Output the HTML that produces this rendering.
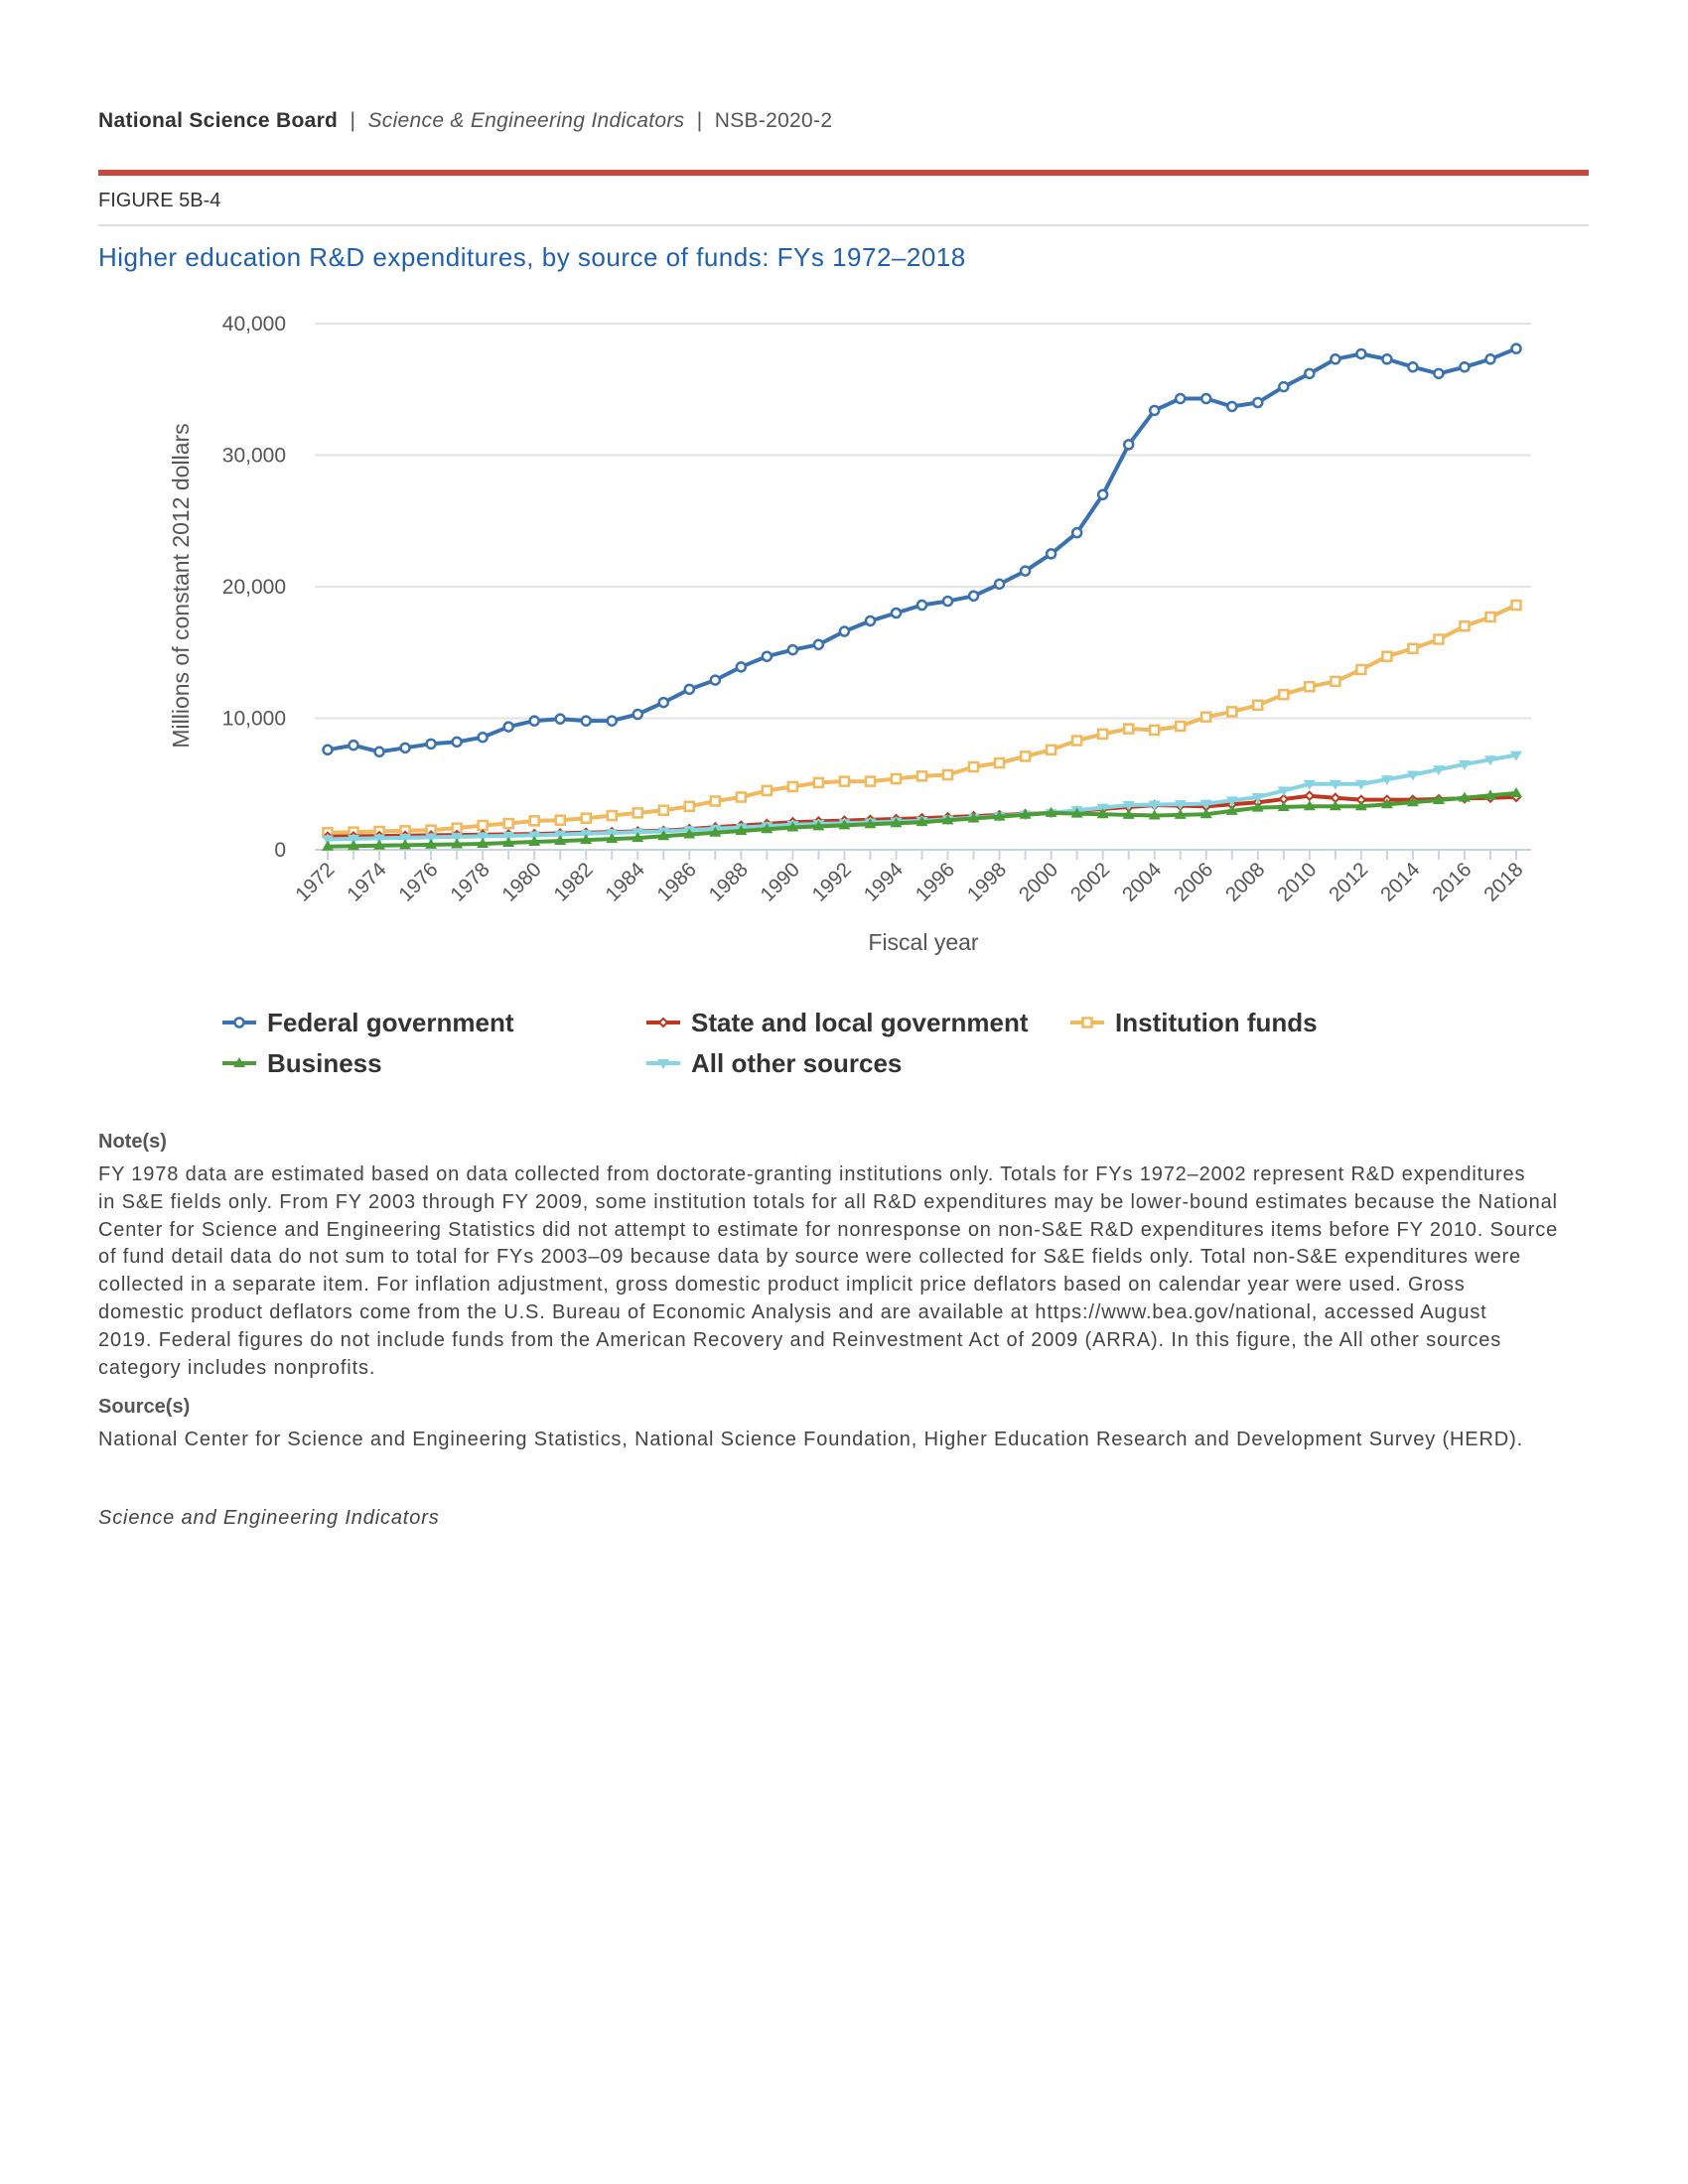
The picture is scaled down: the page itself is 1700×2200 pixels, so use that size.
<!DOCTYPE html>
<html><head><meta charset="utf-8">
<style>
body{margin:0;background:#fff;width:1700px;height:2200px;position:relative;font-family:"Liberation Sans",sans-serif;color:#333;}
.abs{position:absolute;}
.nt{font-size:20px;line-height:27.8px;color:#444;letter-spacing:0.85px;white-space:nowrap;}
</style></head><body>
<div class="abs" style="left:99px;top:110px;font-size:21px;color:#333;letter-spacing:0.3px;"><b style="font-weight:600">National Science Board</b> <span style="color:#555">&nbsp;|&nbsp; <i>Science &amp; Engineering Indicators</i> &nbsp;|&nbsp; NSB-2020-2</span></div>
<div class="abs" style="left:99px;top:171px;width:1501px;height:6px;background:#c8473a;"></div>
<div class="abs" style="left:99px;top:191px;font-size:20px;color:#333;">FIGURE 5B-4</div>
<div class="abs" style="left:99px;top:226px;width:1501px;height:2px;background:#ddd;"></div>
<div class="abs" style="left:99px;top:244px;font-size:26px;color:#1f5fae;letter-spacing:0.5px;">Higher education R&amp;D expenditures, by source of funds: FYs 1972–2018</div>
<svg class="abs" style="left:0;top:0" width="1700" height="1100" id="ch"></svg>
<div class="abs" style="left:99px;top:1139px;font-size:20px;font-weight:bold;color:#555;">Note(s)</div>
<div class="abs nt" style="left:99px;top:1170px;">FY 1978 data are estimated based on data collected from doctorate-granting institutions only. Totals for FYs 1972–2002 represent R&amp;D expenditures<br>in S&amp;E fields only. From FY 2003 through FY 2009, some institution totals for all R&amp;D expenditures may be lower-bound estimates because the National<br>Center for Science and Engineering Statistics did not attempt to estimate for nonresponse on non-S&amp;E R&amp;D expenditures items before FY 2010. Source<br>of fund detail data do not sum to total for FYs 2003–09 because data by source were collected for S&amp;E fields only. Total non-S&amp;E expenditures were<br>collected in a separate item. For inflation adjustment, gross domestic product implicit price deflators based on calendar year were used. Gross<br>domestic product deflators come from the U.S. Bureau of Economic Analysis and are available at https://www.bea.gov/national, accessed August<br>2019. Federal figures do not include funds from the American Recovery and Reinvestment Act of 2009 (ARRA). In this figure, the All other sources<br>category includes nonprofits.</div>
<div class="abs" style="left:99px;top:1406px;font-size:20px;font-weight:bold;color:#555;">Source(s)</div>
<div class="abs nt" style="left:99px;top:1437px;">National Center for Science and Engineering Statistics, National Science Foundation, Higher Education Research and Development Survey (HERD).</div>
<div class="abs nt" style="left:99px;top:1516px;font-style:italic;">Science and Engineering Indicators</div>
<script>
var svg=document.getElementById('ch'),h='';
function X(i){return 330+i*(1527-330)/46;}
function Y(v){return 856-v*530/40000;}
for(var g=0;g<=4;g++){var y=Y(g*10000);h+='<line x1="317" x2="1542" y1="'+y+'" y2="'+y+'" stroke="'+(g?'#e3e3e3':'#c9d3e6')+'" stroke-width="2"/>';
h+='<text x="288" y="'+(y+7)+'" text-anchor="end" font-size="21" fill="#555">'+(g?g*10+',000':'0')+'</text>';}
for(var i=0;i<47;i++){h+='<line x1="'+X(i)+'" x2="'+X(i)+'" y1="856" y2="866" stroke="#c9d3e6" stroke-width="2"/>';
if(i%2==0)h+='<text transform="translate('+(X(i)+8)+',877) rotate(-45)" text-anchor="end" font-size="20.5" fill="#555">'+(1972+i)+'</text>';}
h+='<text transform="translate(190,590) rotate(-90)" text-anchor="middle" font-size="23" fill="#555">Millions of constant 2012 dollars</text>';
h+='<text x="930" y="957" text-anchor="middle" font-size="23" fill="#555">Fiscal year</text>';
function interp(k){var o=[];for(var i=0;i<k.length-1;i++){var a=k[i],b=k[i+1];for(var y=a[0];y<b[0];y++)o.push(a[1]+(b[1]-a[1])*(y-a[0])/(b[0]-a[0]));}o.push(k[k.length-1][1]);return o;}
var fed=[7600,7950,7450,7750,8050,8200,8550,9350,9800,9950,9800,9800,10300,11200,12200,12900,13900,14700,15200,15600,16600,17400,18000,18600,18900,19300,20200,21200,22500,24100,27000,30800,33400,34300,34300,33700,34000,35200,36200,37300,37700,37300,36700,36200,36700,37300,38100];
var inst=[1300,1350,1400,1450,1500,1650,1850,2000,2200,2250,2400,2600,2800,3000,3300,3700,4000,4500,4800,5100,5200,5200,5400,5600,5700,6300,6600,7100,7600,8300,8800,9200,9100,9400,10100,10500,11000,11800,12400,12800,13700,14700,15300,16000,17000,17700,18600];
var st=interp([[1972,1000],[1980,1200],[1985,1450],[1990,2100],[1995,2400],[2000,2800],[2004,3400],[2006,3300],[2008,3600],[2010,4100],[2012,3800],[2014,3800],[2018,4000]]);
var bus=interp([[1972,250],[1978,450],[1984,900],[1990,1700],[1995,2100],[2000,2800],[2004,2600],[2006,2700],[2008,3200],[2010,3300],[2012,3300],[2014,3600],[2018,4300]]);
var oth=interp([[1972,800],[1980,1100],[1985,1400],[1990,1900],[1995,2200],[2000,2800],[2003,3400],[2006,3500],[2008,4000],[2010,5000],[2012,5000],[2014,5700],[2016,6500],[2018,7200]]);
function mk(t,x,y,c){if(t=='c')return '<circle cx="'+x+'" cy="'+y+'" r="4.5" fill="#fff" stroke="'+c+'" stroke-width="2.5"/>';
if(t=='s')return '<rect x="'+(x-4.5)+'" y="'+(y-4.5)+'" width="9" height="9" fill="#fff" stroke="'+c+'" stroke-width="2.5"/>';
if(t=='d')return '<path d="M'+x+' '+(y-4)+'L'+(x+4)+' '+y+'L'+x+' '+(y+4)+'L'+(x-4)+' '+y+'Z" fill="#fff" stroke="'+c+'" stroke-width="2"/>';
if(t=='u')return '<path d="M'+x+' '+(y-6)+'L'+(x+6)+' '+(y+4)+'L'+(x-6)+' '+(y+4)+'Z" fill="'+c+'"/>';
return '<path d="M'+x+' '+(y+6)+'L'+(x+6)+' '+(y-4)+'L'+(x-6)+' '+(y-4)+'Z" fill="'+c+'"/>';}
function ser(d,c,t){var p='';for(var i=0;i<d.length;i++)p+=(i?'L':'M')+X(i).toFixed(1)+' '+Y(d[i]).toFixed(1);
h+='<path d="'+p+'" fill="none" stroke="'+c+'" stroke-width="4" stroke-linejoin="round"/>';for(var i=0;i<d.length;i++)h+=mk(t,X(i),Y(d[i]),c);}
ser(inst,'#f2b85c','s');ser(st,'#c0361f','d');ser(oth,'#86d4e2','v');ser(bus,'#4b9e37','u');ser(fed,'#3a72b0','c');
var L=[[224,1030,'#3a72b0','c','Federal government'],[651,1030,'#c0361f','d','State and local government'],[1078,1030,'#f2b85c','s','Institution funds'],[224,1071,'#4b9e37','u','Business'],[651,1071,'#86d4e2','v','All other sources']];
L.forEach(function(l){h+='<line x1="'+l[0]+'" x2="'+(l[0]+34)+'" y1="'+l[1]+'" y2="'+l[1]+'" stroke="'+l[2]+'" stroke-width="4"/>'+mk(l[3],l[0]+17,l[1],l[2]);
h+='<text x="'+(l[0]+45)+'" y="'+(l[1]+9)+'" font-size="26" font-weight="bold" fill="#333">'+l[4]+'</text>';});
svg.innerHTML=h;
</script>
</body></html>
